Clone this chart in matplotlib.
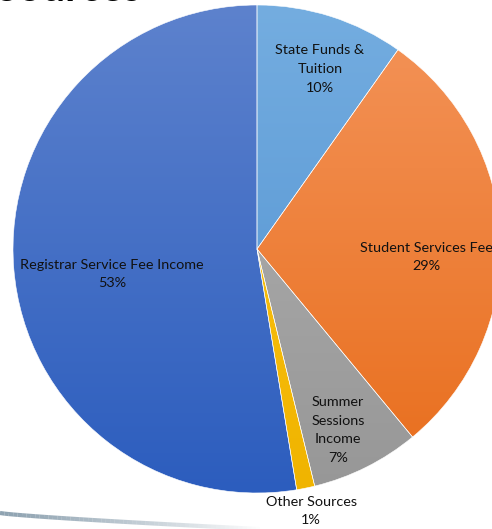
import numpy as np
import matplotlib
matplotlib.use("Agg")
import matplotlib.pyplot as plt
from matplotlib.colors import LinearSegmentedColormap
from matplotlib.collections import LineCollection

# slice data, clockwise from 12 o'clock
labels = ["State Funds &\nTuition", "Student Services Fee", "Summer\nSessions\nIncome",
          "Other Sources", "Registrar Service Fee Income"]
shares = [9.8, 29.2, 7.2, 1.2, 52.6]
pct_labels = ["10%", "29%", "7%", "1%", "53%"]

# (top colour, bottom colour) for the Office-like gradient
colors = [("#74ade0", "#4f90d0"),
          ("#f4945a", "#e86d1b"),
          ("#b3b3b3", "#979797"),
          ("#ffc61a", "#f0b400"),
          ("#5d82cd", "#2c5dbe")]

# label centres in pixel coords (x right, y down)
label_pos = [(320, 69), (426, 257), (338, 430), (311, 511), (112, 274)]

W, H = 492, 529
cx, cy, R = 257, 249, 244

fig = plt.figure(figsize=(W / 100, H / 100), dpi=100)
ax = fig.add_axes([0, 0, 1, 1])
ax.set_xlim(0, W)
ax.set_ylim(0, H)
ax.set_aspect("equal")
ax.axis("off")

wedges, _ = ax.pie(shares, center=(cx, H - cy), radius=R, startangle=90,
                   counterclock=False, colors=[c[1] for c in colors],
                   wedgeprops=dict(edgecolor="white", linewidth=0.4))

grad = np.linspace(0, 1, 256).reshape(-1, 1)
for w, (top, bot) in zip(wedges, colors):
    cmap = LinearSegmentedColormap.from_list("g", [top, bot])
    im = ax.imshow(grad, cmap=cmap, aspect="auto",
                   extent=(cx - R, cx + R, H - cy - R, H - cy + R),
                   origin="upper", zorder=w.get_zorder() + 0.1)
    im.set_clip_path(w)
    w.set_zorder(w.get_zorder() + 0.2)
    w.set_facecolor("none")

ax.set_xlim(0, W)
ax.set_ylim(0, H)

for lab, pct, (x, y) in zip(labels, pct_labels, label_pos):
    ax.text(x, H - y, lab + "\n" + pct, ha="center", va="center",
            fontsize=10.4, family="Lato", color="#111111", linespacing=1.65,
            zorder=10)

# title mostly off the top of the crop
fig.text(-0.01, 1 - 1.2 / H, "Sources", fontsize=30, fontweight="bold",
         family="Lato", color="black", ha="left", va="baseline")

# grey swoosh at the bottom left
t = np.linspace(0, 1, 60)
sx = t * 260
sy = H - (513 + 16 * t ** 0.8)
pts = np.array([sx, sy]).T.reshape(-1, 1, 2)
segs = np.concatenate([pts[:-1], pts[1:]], axis=1)
alphas = np.clip(1.0 - t[:-1] ** 1.2, 0, 1) * 0.8
lc = LineCollection(segs, colors=[(0.45, 0.55, 0.62, a) for a in alphas],
                    linewidths=3)
ax.add_collection(lc)

fig.savefig("out.png", dpi=100)
